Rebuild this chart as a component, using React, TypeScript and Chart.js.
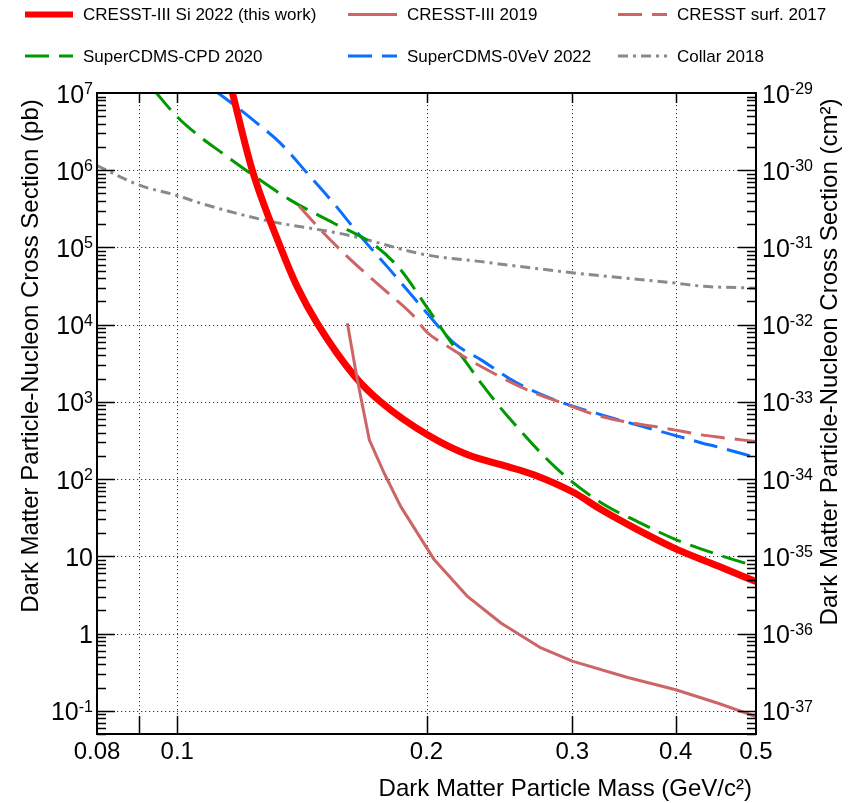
import React, { useEffect, useRef } from 'react';
import { Chart, registerables } from 'chart.js';

Chart.register(...registerables);

// ---------------- data (mass in GeV/c^2, cross section in pb) ----------------
const cresstSi2022Mass = [0.1155, 0.1166, 0.1232, 0.1333, 0.1396, 0.1476, 0.1635, 0.1761, 0.2005, 0.2243, 0.2508, 0.270, 0.302, 0.3254, 0.36, 0.40, 0.45, 0.50];
const cresstSi2022Xsec = [1.5e7, 1.0e7, 1.0e6, 1.0e5, 3.1e4, 1.04e4, 2.2e3, 1.0e3, 374, 206, 145, 113, 66, 40, 22, 12.5, 7.5, 4.7];

const cresst2019Mass = [0.1605, 0.165, 0.1706, 0.1778, 0.1862, 0.2044, 0.2243, 0.2462, 0.275, 0.30, 0.35, 0.40, 0.45, 0.50];
const cresst2019Xsec = [1.04e4, 1.93e3, 322, 119, 44, 9.0, 3.0, 1.36, 0.65, 0.44, 0.27, 0.187, 0.125, 0.084];

const cresstSurf2017Mass = [0.1403, 0.149, 0.1605, 0.1761, 0.1933, 0.2, 0.2122, 0.2328, 0.270, 0.2856, 0.3254, 0.40, 0.43, 0.45, 0.50];
const cresstSurf2017Xsec = [3.44e5, 1.69e5, 7.6e4, 3.1e4, 1.27e4, 8.1e3, 5.2e3, 2.87e3, 1.30e3, 1.05e3, 646, 431, 374, 350, 306];

const superCdmsCpdMass = [0.094, 0.1, 0.1066, 0.1127, 0.1226, 0.137, 0.1546, 0.1729, 0.1862, 0.2, 0.216, 0.2222, 0.2328, 0.2508, 0.2884, 0.3254, 0.36, 0.40, 0.45, 0.50];
const superCdmsCpdXsec = [1.05e7, 4.9e6, 2.7e6, 1.74e6, 9.1e5, 4.1e5, 2.06e5, 1.08e5, 5.1e4, 1.71e4, 5.2e3, 3.5e3, 1.75e3, 646, 132, 49, 28, 16.5, 10.5, 7.4];

const superCdms0vevMass = [0.1105, 0.112, 0.1249, 0.1333, 0.1436, 0.1546, 0.1666, 0.1794, 0.1988, 0.216, 0.2328, 0.2555, 0.2856, 0.3254, 0.40, 0.43, 0.45, 0.50];
const superCdms0vevXsec = [1.1e7, 1.0e7, 4.05e6, 2.23e6, 9.1e5, 3.7e5, 1.38e5, 5.6e4, 1.55e4, 5.75e3, 3.5e3, 1.83e3, 1.06e3, 679, 366, 294, 260, 190];

const collar2018Mass = [0.08, 0.09, 0.1, 0.1066, 0.1272, 0.1605, 0.2, 0.2328, 0.30, 0.40, 0.43, 0.50];
const collar2018Xsec = [1.15e6, 6.4e5, 4.7e5, 3.75e5, 2.27e5, 1.45e5, 8.0e4, 6.55e4, 4.7e4, 3.45e4, 3.15e4, 2.97e4];

const seriesLabels = [
  'CRESST-III Si 2022 (this work)',
  'CRESST-III 2019',
  'CRESST surf. 2017',
  'SuperCDMS-CPD 2020',
  'SuperCDMS-0VeV 2022',
  'Collar 2018',
];

// axes
const massMin = 0.08;
const massMax = 0.5;
const xsecMin = 0.05;
const xsecMax = 1e7;
const pbToCm2 = 1e-36;

const xTickValues = [0.08, 0.1, 0.2, 0.3, 0.4, 0.5];
const xTickLabels = ['0.08', '0.1', '0.2', '0.3', '0.4', '0.5'];
const xGridValues = [0.09, 0.1, 0.2, 0.3, 0.4];

const leftTickValues = [1e7, 1e6, 1e5, 1e4, 1e3, 1e2, 10, 1, 0.1];
const leftTickLabels = ['10^7', '10^6', '10^5', '10^4', '10^3', '10^2', '10', '1', '10^-1'];
const rightTickValues = [1e-29, 1e-30, 1e-31, 1e-32, 1e-33, 1e-34, 1e-35, 1e-36, 1e-37];
const rightTickLabels = ['10^-29', '10^-30', '10^-31', '10^-32', '10^-33', '10^-34', '10^-35', '10^-36', '10^-37'];

const xTitle = 'Dark Matter Particle Mass (GeV/c\u00B2)';
const yTitle = 'Dark Matter Particle-Nucleon Cross Section (pb)';
const y2Title = 'Dark Matter Particle-Nucleon Cross Section (cm\u00B2)';

// ---------------- styles ----------------
const FONT = '"Liberation Sans", Arial, Helvetica, sans-serif';
const RED = '#ff0000';
const ROSE = '#cd6565';
const GREEN = '#009900';
const BLUE = '#0a6eff';
const GRAY = '#8a8a8a';
const DASH = [24, 10];
const DASHDOT = [10, 5, 3, 5];

const seriesStyles = [
  { color: RED, width: 7, dash: [] as number[] },
  { color: ROSE, width: 3, dash: [] as number[] },
  { color: ROSE, width: 3, dash: DASH },
  { color: GREEN, width: 3, dash: DASH },
  { color: BLUE, width: 3, dash: DASH },
  { color: GRAY, width: 3, dash: DASHDOT },
];

function toPoints(m: number[], v: number[]) {
  return m.map((x, i) => ({ x, y: v[i] }));
}

function drawPow(ctx: CanvasRenderingContext2D, label: string, x: number, y: number, align: 'left' | 'right') {
  const [base, exp] = label.split('^');
  ctx.font = `25px ${FONT}`;
  const wb = ctx.measureText(base).width;
  let we = 0;
  if (exp) {
    ctx.font = `16px ${FONT}`;
    we = ctx.measureText(exp).width;
  }
  const x0 = align === 'right' ? x - wb - we : x;
  ctx.textAlign = 'left';
  ctx.textBaseline = 'alphabetic';
  ctx.font = `25px ${FONT}`;
  ctx.fillText(base, x0, y + 9.5);
  if (exp) {
    ctx.font = `16px ${FONT}`;
    ctx.fillText(exp, x0 + wb, y + 1);
  }
}

const decorPlugin = {
  id: 'decor',
  beforeDatasetsDraw(chart: any) {
    const { ctx, chartArea: a, scales } = chart;
    const xs = scales.x;
    const ys = scales.y;
    ctx.save();
    ctx.strokeStyle = '#333';
    ctx.lineWidth = 1;
    ctx.setLineDash([1.2, 2.8]);
    xGridValues.forEach((v) => {
      const px = Math.round(xs.getPixelForValue(v)) + 0.5;
      ctx.beginPath();
      ctx.moveTo(px, a.top);
      ctx.lineTo(px, a.bottom);
      ctx.stroke();
    });
    leftTickValues.forEach((v) => {
      if (v >= xsecMax) return;
      const py = Math.round(ys.getPixelForValue(v)) + 0.5;
      ctx.beginPath();
      ctx.moveTo(a.left, py);
      ctx.lineTo(a.right, py);
      ctx.stroke();
    });
    ctx.restore();
  },
  afterDatasetsDraw(chart: any) {
    const { ctx, chartArea: a, scales } = chart;
    const xs = scales.x;
    const ys = scales.y;
    const y2 = scales.y2;
    ctx.save();
    ctx.setLineDash([]);
    ctx.strokeStyle = '#000';
    // ticks
    ctx.lineWidth = 1.5;
    for (let e = -2; e <= 6; e++) {
      for (let k = 1; k <= 9; k++) {
        const v = k * Math.pow(10, e);
        if (v < xsecMin * 0.999 || v > xsecMax * 1.001) continue;
        const py = Math.round(ys.getPixelForValue(v)) + 0.5;
        const len = k === 1 ? 18 : 9;
        ctx.beginPath();
        ctx.moveTo(a.left, py);
        ctx.lineTo(a.left + len, py);
        ctx.moveTo(a.right, py);
        ctx.lineTo(a.right - len, py);
        ctx.stroke();
      }
    }
    xGridValues.forEach((v) => {
      const px = Math.round(xs.getPixelForValue(v)) + 0.5;
      ctx.beginPath();
      ctx.moveTo(px, a.bottom);
      ctx.lineTo(px, a.bottom - 18);
      ctx.moveTo(px, a.top);
      ctx.lineTo(px, a.top + 10);
      ctx.stroke();
    });
    // frame
    ctx.lineWidth = 2;
    ctx.strokeRect(a.left, a.top, a.right - a.left, a.bottom - a.top);

    // tick labels
    ctx.fillStyle = '#000';
    leftTickValues.forEach((v, i) => {
      drawPow(ctx, leftTickLabels[i], a.left - 4, ys.getPixelForValue(v), 'right');
    });
    rightTickValues.forEach((v, i) => {
      drawPow(ctx, rightTickLabels[i], a.right + 6, y2.getPixelForValue(v), 'left');
    });
    ctx.font = `24px ${FONT}`;
    ctx.textAlign = 'center';
    ctx.textBaseline = 'alphabetic';
    xTickValues.forEach((v, i) => {
      ctx.fillText(xTickLabels[i], xs.getPixelForValue(v), 759);
    });

    // axis titles
    ctx.font = `24px ${FONT}`;
    ctx.textAlign = 'right';
    ctx.fillText(xTitle, a.right - 4, 796);
    ctx.textAlign = 'center';
    ctx.save();
    ctx.translate(38, 356);
    ctx.rotate(-Math.PI / 2);
    ctx.fillText(yTitle, 0, 0);
    ctx.restore();
    ctx.save();
    ctx.translate(837, 362);
    ctx.rotate(-Math.PI / 2);
    ctx.fillText(y2Title, 0, 0);
    ctx.restore();

    // legend
    const colLine = [[25, 73], [348, 397], [618, 667]];
    const colText = [83, 407, 677];
    const rowY = [14.5, 56];
    seriesLabels.forEach((label, i) => {
      const c = i % 3;
      const r = Math.floor(i / 3);
      const st = seriesStyles[i];
      ctx.save();
      ctx.strokeStyle = st.color;
      ctx.lineWidth = i === 0 ? 6 : 3;
      ctx.setLineDash(st.dash);
      ctx.beginPath();
      ctx.moveTo(colLine[c][0], rowY[r]);
      ctx.lineTo(colLine[c][1], rowY[r]);
      ctx.stroke();
      ctx.restore();
      ctx.fillStyle = '#000';
      ctx.font = `17px ${FONT}`;
      ctx.textAlign = 'left';
      ctx.textBaseline = 'middle';
      ctx.fillText(label, colText[c], rowY[r] + 1);
    });
    ctx.restore();
  },
};

export default function App() {
  const canvasRef = useRef<HTMLCanvasElement | null>(null);

  useEffect(() => {
    const canvas = canvasRef.current;
    if (!canvas) return;
    const dataSets = [
      toPoints(cresstSi2022Mass, cresstSi2022Xsec),
      toPoints(cresst2019Mass, cresst2019Xsec),
      toPoints(cresstSurf2017Mass, cresstSurf2017Xsec),
      toPoints(superCdmsCpdMass, superCdmsCpdXsec),
      toPoints(superCdms0vevMass, superCdms0vevXsec),
      toPoints(collar2018Mass, collar2018Xsec),
    ];
    const orders = [1, 0, 2, 3, 4, 5];
    const chart = new Chart(canvas, {
      type: 'line',
      data: {
        datasets: dataSets.map((d, i) => ({
          label: seriesLabels[i],
          data: d,
          borderColor: seriesStyles[i].color,
          borderWidth: seriesStyles[i].width,
          borderDash: seriesStyles[i].dash,
          borderCapStyle: 'butt',
          borderJoinStyle: 'round',
          pointRadius: 0,
          fill: false,
          clip: 0,
          order: orders[i],
          tension: i === 1 ? 0 : 0.4,
          cubicInterpolationMode: i === 1 ? 'default' : 'monotone',
        })) as any,
      },
      options: {
        responsive: false,
        animation: false,
        devicePixelRatio: 1,
        layout: { padding: { left: 97, top: 93, right: 94, bottom: 69 } },
        plugins: {
          legend: { display: false },
          title: { display: false },
          tooltip: { enabled: false },
        },
        events: [],
        scales: {
          x: { type: 'logarithmic', min: massMin, max: massMax, display: false },
          y: { type: 'logarithmic', min: xsecMin, max: xsecMax, display: false },
          y2: { type: 'logarithmic', position: 'right', min: xsecMin * pbToCm2, max: xsecMax * pbToCm2, display: false },
        },
      } as any,
      plugins: [decorPlugin],
    });
    return () => chart.destroy();
  }, []);

  return (
    <div style={{ position: 'fixed', left: 0, top: 0, width: 850, height: 803, background: '#fff' }}>
      <canvas ref={canvasRef} width={850} height={803} style={{ display: 'block' }} />
    </div>
  );
}
